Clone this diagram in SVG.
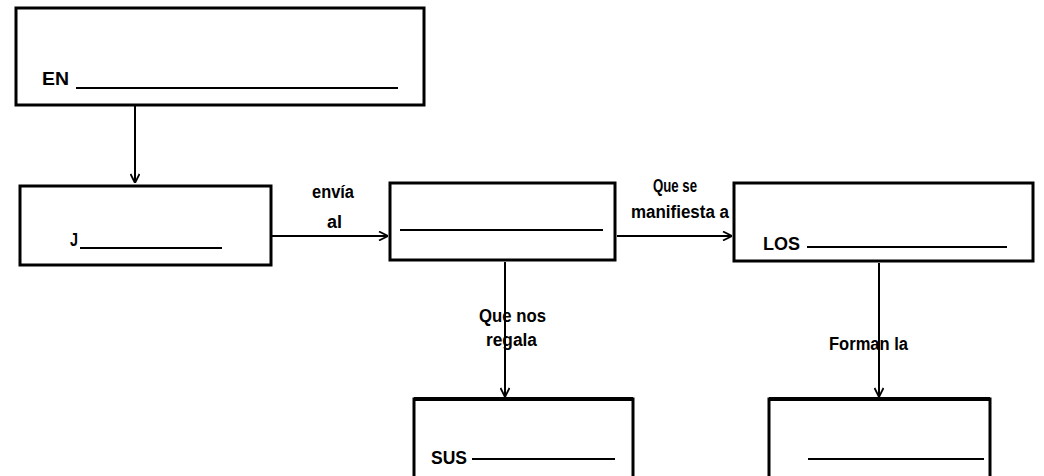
<svg xmlns="http://www.w3.org/2000/svg" width="1044" height="476" viewBox="0 0 1044 476">
<style>
.box{fill:#fff;stroke:#000;stroke-width:3}
.ul{stroke:#000;stroke-width:2}
.conn{stroke:#000;stroke-width:2;fill:none}
.t{font-family:"Liberation Sans Narrow","Liberation Sans",Arial,sans-serif;font-weight:bold;font-size:18px;fill:#000}
</style>
<defs>
<marker id="arr" viewBox="0 0 10 10" refX="10" refY="5" markerWidth="10" markerHeight="10" markerUnits="userSpaceOnUse" orient="auto">
<path d="M1,0.5 L10,5 L1,9.5" fill="none" stroke="#000" stroke-width="1.8"/>
</marker>
</defs>
<rect width="1044" height="476" fill="#fff"/>
<g id="connectors">
<line class="conn" x1="135" y1="106" x2="135" y2="183" marker-end="url(#arr)"/>
<line class="conn" x1="272" y1="236" x2="388" y2="236" marker-end="url(#arr)"/>
<line class="conn" x1="617" y1="236" x2="732" y2="236" marker-end="url(#arr)"/>
<line class="conn" x1="505" y1="262" x2="505" y2="397" marker-end="url(#arr)"/>
<line class="conn" x1="879" y1="263" x2="879" y2="397" marker-end="url(#arr)"/>
<text class="t" x="312" y="198" textLength="42" lengthAdjust="spacingAndGlyphs">envía</text>
<text class="t" x="327" y="228" textLength="15" lengthAdjust="spacingAndGlyphs">al</text>
<text class="t" x="653" y="192" textLength="44" lengthAdjust="spacingAndGlyphs">Que se</text>
<text class="t" x="631" y="218" textLength="98" lengthAdjust="spacingAndGlyphs">manifiesta a</text>
<text class="t" x="479" y="322" textLength="67" lengthAdjust="spacingAndGlyphs">Que nos</text>
<text class="t" x="486" y="346" textLength="51" lengthAdjust="spacingAndGlyphs">regala</text>
<text class="t" x="829" y="350" textLength="79" lengthAdjust="spacingAndGlyphs">Forman la</text>
</g>
<g id="n1">
<rect class="box" x="16" y="8" width="408" height="97"/>
<text class="t" x="42" y="85" style="font-size:19px" textLength="27" lengthAdjust="spacingAndGlyphs">EN</text>
<line class="ul" x1="76" y1="88" x2="398" y2="88"/>
</g>
<g id="n2">
<rect class="box" x="20" y="186" width="251" height="79"/>
<text class="t" x="70" y="246" textLength="8" lengthAdjust="spacingAndGlyphs">J</text>
<line class="ul" x1="80" y1="248" x2="222" y2="248"/>
</g>
<g id="n3">
<rect class="box" x="390" y="183" width="225" height="77"/>
<line class="ul" x1="400" y1="230" x2="603" y2="230"/>
</g>
<g id="n4">
<rect class="box" x="734" y="183" width="299" height="78"/>
<text class="t" x="763" y="250" textLength="37" lengthAdjust="spacingAndGlyphs">LOS</text>
<line class="ul" x1="807" y1="247" x2="1007" y2="247"/>
</g>
<g id="n5">
<rect class="box" x="414" y="399" width="219" height="80"/>
<line x1="414" y1="399" x2="633" y2="399" stroke="#000" stroke-width="4"/>
<text class="t" x="431" y="464" textLength="36" lengthAdjust="spacingAndGlyphs">SUS</text>
<line class="ul" x1="472" y1="459" x2="615" y2="459"/>
</g>
<g id="n6">
<rect class="box" x="769" y="399" width="221" height="80"/>
<line x1="769" y1="399" x2="990" y2="399" stroke="#000" stroke-width="4"/>
<line class="ul" x1="808" y1="459" x2="984" y2="459"/>
</g>
</svg>
